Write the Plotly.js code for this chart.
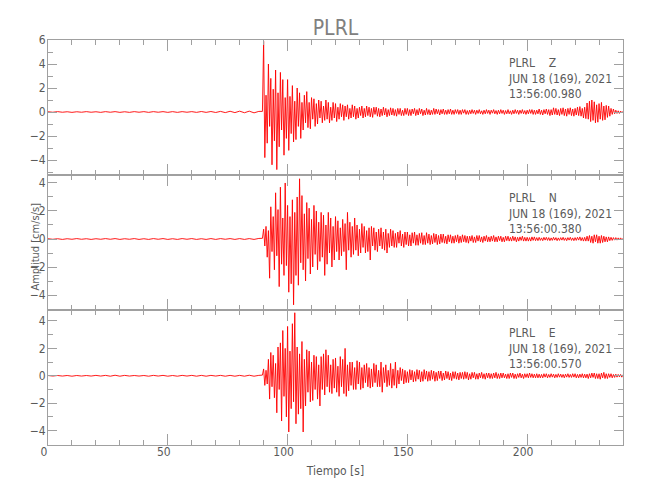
<!DOCTYPE html>
<html>
<head>
<meta charset="utf-8">
<script src="https://cdn.plot.ly/plotly-3.0.1.min.js"></script>
<style>html,body{margin:0;padding:0;background:#fff;}#chart{width:650px;height:500px;}</style>
</head>
<body>
<div id="chart"></div>
<script>
// ---- data ----
const station = "PLRL";
const components = ["Z", "N", "E"];
const dateLabel = "JUN 18 (169), 2021";
const startTimes = ["13:56:00.980", "13:56:00.380", "13:56:00.570"];

// pre-event noise: samples every 2 s from t = 0 to 88 s
const noiseStart = 0, noiseStep = 2;
// event signal: samples every 0.5 s from t = 89.5 to 240 s
const signalStart = 89.5, signalStep = 0.5;

const zNoise = [0.02,-0.02,0.03,-0.02,0.02,-0.03,0.02,-0.02,0.03,-0.02,
 0.02,-0.03,0.03,-0.02,0.03,-0.03,0.02,-0.03,0.03,-0.02,
 0.03,-0.03,0.03,-0.02,0.03,-0.03,0.03,-0.03,0.03,-0.02,
 0.03,-0.03,0.04,-0.03,0.04,-0.04,0.05,-0.05,0.06,-0.05,
 0.07,-0.06,0.07,-0.07,0.05];
const zSignal = [0.05,5.9,-3.8,1.4,-2.6,4.0,-1.2,2.8,-4.4,1.9,
 -2.4,3.5,-4.8,1.6,-2.9,3.3,-1.5,2.7,-3.6,1.2,
 -2.2,2.7,-3.2,1.3,-1.8,2.2,-2.5,0.9,-2.3,2.0,
 -1.2,1.6,-2.2,0.8,-1.5,1.4,-0.9,1.7,-1.3,0.8,
 -1.4,1.2,-0.6,1.1,-1.2,0.7,-1.0,1.0,-0.5,0.9,
 -0.9,0.5,-0.7,1.0,-0.6,0.8,-0.9,0.4,-0.7,0.8,
 -0.5,0.7,-0.8,0.4,-0.6,0.7,-0.4,0.6,-0.7,0.5,
 -0.4,0.6,-0.6,0.3,-0.5,0.6,-0.4,0.5,-0.6,0.3,
 -0.5,0.4,-0.3,0.5,-0.5,0.3,-0.4,0.5,-0.3,0.4,
 -0.4,0.3,-0.45,0.4,-0.2,0.4,-0.35,0.3,-0.4,0.25,
 -0.3,0.4,-0.25,0.3,-0.4,0.2,-0.3,0.35,-0.25,0.3,
 -0.3,0.2,-0.35,0.3,-0.2,0.3,-0.3,0.15,-0.3,0.3,
 -0.2,0.3,-0.3,0.2,-0.3,0.25,-0.15,0.3,-0.3,0.2,
 -0.25,0.3,-0.15,0.25,-0.3,0.15,-0.25,0.3,-0.2,0.2,
 -0.25,0.15,-0.2,0.3,-0.2,0.25,-0.15,0.2,-0.25,0.2,
 -0.15,0.25,-0.2,0.15,-0.2,0.2,-0.15,0.25,-0.2,0.15,
 -0.2,0.2,-0.12,0.2,-0.2,0.15,-0.2,0.2,-0.1,0.2,
 -0.2,0.12,-0.2,0.15,-0.15,0.2,-0.12,0.15,-0.2,0.15,
 -0.12,0.2,-0.15,0.1,-0.2,0.15,-0.15,0.2,-0.12,0.15,
 -0.2,0.15,-0.1,0.2,-0.15,0.12,-0.2,0.15,-0.15,0.2,
 -0.12,0.15,-0.2,0.12,-0.15,0.2,-0.15,0.1,-0.2,0.15,
 -0.15,0.2,-0.12,0.15,-0.2,0.15,-0.12,0.2,-0.15,0.12,
 -0.2,0.15,-0.15,0.2,-0.12,0.2,-0.2,0.15,-0.2,0.15,
 -0.15,0.25,-0.2,0.15,-0.25,0.2,-0.15,0.25,-0.2,0.2,
 -0.3,0.2,-0.25,0.35,-0.2,0.3,-0.25,0.2,-0.3,0.3,
 -0.2,0.35,-0.3,0.25,-0.35,0.3,-0.2,0.35,-0.3,0.25,
 -0.35,0.3,-0.25,0.4,-0.3,0.45,-0.35,0.3,-0.5,0.4,
 -0.55,0.75,-0.6,0.9,-0.8,1.0,-0.7,0.85,-0.9,0.6,
 -0.85,0.7,-0.6,0.8,-0.7,0.5,-0.65,0.55,-0.45,0.5,
 -0.35,0.3,-0.2,0.25,-0.15,0.15,-0.12,0.1,-0.12,0.08,
 -0.08,0.06];

const nNoise = [0.02,-0.02,0.02,-0.03,0.02,-0.02,0.03,-0.02,0.02,-0.03,
 0.02,-0.02,0.03,-0.02,0.03,-0.03,0.02,-0.02,0.03,-0.03,
 0.02,-0.03,0.03,-0.02,0.03,-0.03,0.02,-0.03,0.03,-0.02,
 0.03,-0.03,0.02,-0.03,0.03,-0.03,0.03,-0.02,0.03,-0.03,
 0.03,-0.03,0.03,-0.03,0.04];
const nSignal = [0.05,0.7,-0.5,0.9,-1.3,0.6,-2.8,2.3,-0.9,1.6,
 -2.2,3.3,-1.2,2.1,-3.4,3.7,-1.8,1.5,-2.6,4.0,
 -1.9,2.4,-3.8,1.6,-3.2,2.8,-4.7,1.9,-2.6,3.0,
 -3.3,4.3,-1.7,3.1,-2.2,1.8,-3.0,2.6,-1.4,2.2,
 -2.5,1.4,-2.0,2.4,-1.1,2.0,-2.2,1.2,-1.6,1.9,
 -1.3,1.7,-2.6,1.0,-1.8,1.9,-1.0,1.5,-2.0,0.9,
 -1.5,1.6,-0.9,1.3,-1.5,0.8,-1.2,1.4,-0.9,1.1,
 -2.2,1.9,-0.8,1.2,-1.3,0.9,-1.1,1.5,-0.8,1.0,
 -1.2,0.7,-1.0,1.1,-0.6,0.9,-1.0,0.6,-0.9,0.8,
 -1.5,0.9,-0.5,0.8,-0.8,0.5,-0.9,0.7,-0.5,0.8,
 -0.7,0.5,-0.8,0.7,-1.0,0.4,-0.6,0.7,-0.5,0.6,
 -0.6,0.4,-0.6,0.5,-0.3,0.6,-0.5,0.35,-0.6,0.5,
 -0.4,0.5,-0.5,0.3,-0.5,0.45,-0.3,0.5,-0.45,0.3,
 -0.45,0.4,-0.3,0.45,-0.4,0.25,-0.4,0.45,-0.3,0.35,
 -0.4,0.25,-0.35,0.4,-0.25,0.35,-0.4,0.25,-0.35,0.35,
 -0.25,0.35,-0.3,0.2,-0.35,0.3,-0.2,0.3,-0.3,0.2,
 -0.3,0.25,-0.2,0.3,-0.3,0.2,-0.25,0.3,-0.2,0.25,
 -0.25,0.2,-0.3,0.2,-0.15,0.25,-0.25,0.15,-0.25,0.25,
 -0.15,0.25,-0.2,0.15,-0.25,0.2,-0.15,0.25,-0.2,0.15,
 -0.2,0.2,-0.15,0.25,-0.2,0.15,-0.2,0.2,-0.12,0.2,
 -0.2,0.12,-0.2,0.2,-0.12,0.2,-0.15,0.12,-0.15,0.2,
 -0.12,0.15,-0.2,0.12,-0.15,0.15,-0.1,0.2,-0.15,0.12,
 -0.15,0.12,-0.15,0.1,-0.15,0.15,-0.1,0.15,-0.12,0.1,
 -0.12,0.12,-0.1,0.08,-0.12,0.12,-0.08,0.12,-0.1,0.1,
 -0.12,0.08,-0.1,0.12,-0.08,0.1,-0.12,0.08,-0.1,0.1,
 -0.08,0.12,-0.1,0.08,-0.12,0.1,-0.08,0.12,-0.1,0.08,
 -0.12,0.1,-0.1,0.12,-0.08,0.15,-0.12,0.1,-0.15,0.12,
 -0.15,0.2,-0.15,0.25,-0.25,0.2,-0.3,0.3,-0.2,0.3,
 -0.3,0.2,-0.3,0.25,-0.25,0.2,-0.2,0.15,-0.2,0.15,
 -0.12,0.12,-0.1,0.1,-0.08,0.1,-0.08,0.08,-0.06,0.08,
 -0.06,0.05];

const eNoise = [0.02,-0.02,0.02,-0.02,0.02,-0.03,0.02,-0.02,0.02,-0.02,
 0.03,-0.02,0.03,-0.03,0.04,-0.03,0.03,-0.02,0.02,-0.02,
 0.02,-0.03,0.03,-0.02,0.03,-0.03,0.02,-0.03,0.03,-0.02,
 0.03,-0.03,0.03,-0.03,0.03,-0.02,0.03,-0.03,0.03,-0.03,
 0.03,-0.03,0.04,-0.03,0.03];
const eSignal = [0.05,0.5,-0.7,0.4,-0.6,1.2,-1.7,1.7,-0.8,1.5,
 -1.6,0.9,-2.7,2.1,-1.0,2.4,-3.3,3.3,-1.5,2.0,
 -3.0,3.6,-4.1,1.8,-2.4,3.8,-1.9,4.6,-3.5,2.1,
 -2.8,1.6,-2.4,2.5,-4.1,1.2,-2.2,1.9,-1.2,1.8,
 -1.9,1.0,-1.8,1.5,-1.0,1.4,-1.7,0.8,-2.2,1.4,
 -1.0,1.6,-1.4,1.9,-0.8,1.5,-1.2,0.8,-1.3,1.2,
 -0.9,1.3,-1.2,0.7,-1.5,1.4,-0.8,1.2,-1.3,2.0,
 -1.5,0.8,-1.1,1.0,-0.7,1.0,-1.0,0.6,-1.0,1.1,
 -0.6,1.0,-1.0,0.6,-0.9,0.8,-0.5,0.9,-0.8,0.6,
 -0.9,0.5,-0.8,0.9,-0.5,0.8,-0.8,0.4,-0.8,1.0,
 -1.2,0.6,-0.5,0.8,-0.8,0.4,-0.7,0.9,-0.9,0.5,
 -0.7,1.0,-0.9,0.4,-0.6,0.6,-0.35,0.5,-0.6,0.4,
 -0.5,0.3,-0.5,0.45,-0.3,0.4,-0.45,0.3,-0.4,0.45,
 -0.25,0.4,-0.45,0.3,-0.4,0.45,-0.25,0.35,-0.4,0.3,
 -0.35,0.4,-0.25,0.35,-0.4,0.25,-0.35,0.35,-0.2,0.35,
 -0.35,0.2,-0.3,0.35,-0.2,0.3,-0.3,0.2,-0.35,0.3,
 -0.2,0.3,-0.25,0.2,-0.3,0.25,-0.2,0.25,-0.25,0.3,
 -0.2,0.25,-0.3,0.15,-0.25,0.25,-0.15,0.25,-0.25,0.15,
 -0.25,0.2,-0.15,0.25,-0.2,0.15,-0.25,0.2,-0.15,0.2,
 -0.2,0.15,-0.2,0.2,-0.15,0.25,-0.2,0.15,-0.2,0.2,
 -0.15,0.2,-0.15,0.12,-0.2,0.15,-0.2,0.2,-0.12,0.2,
 -0.2,0.12,-0.2,0.15,-0.12,0.2,-0.15,0.12,-0.2,0.15,
 -0.12,0.15,-0.15,0.2,-0.12,0.15,-0.15,0.12,-0.15,0.15,
 -0.15,0.12,-0.15,0.1,-0.15,0.15,-0.1,0.15,-0.15,0.1,
 -0.12,0.15,-0.1,0.12,-0.15,0.1,-0.12,0.15,-0.1,0.12,
 -0.12,0.1,-0.15,0.12,-0.1,0.15,-0.12,0.1,-0.12,0.15,
 -0.1,0.15,-0.15,0.1,-0.15,0.12,-0.12,0.15,-0.15,0.12,
 -0.15,0.12,-0.2,0.15,-0.15,0.2,-0.12,0.2,-0.2,0.15,
 -0.2,0.15,-0.25,0.2,-0.15,0.25,-0.2,0.15,-0.2,0.15,
 -0.12,0.15,-0.15,0.1,-0.12,0.12,-0.1,0.1,-0.08,0.1,
 -0.1,0.08];

const xTickVals = [0, 50, 100, 150, 200];
const yRanges = [[-5.25, 6.0001], [-5.07, 4.57], [-5.05, 4.8]];

// ---- build ----
function sampleTimes(start, step, n) {
  const out = [];
  for (let i = 0; i < n; i++) out.push(start + i * step);
  return out;
}
function series(noise, signal) {
  return {
    x: sampleTimes(noiseStart, noiseStep, noise.length).concat(sampleTimes(signalStart, signalStep, signal.length)),
    y: noise.concat(signal)
  };
}
const all = [series(zNoise, zSignal), series(nNoise, nSignal), series(eNoise, eSignal)];

const FONT = "'DejaVu Sans Condensed', 'Liberation Sans Narrow', 'Liberation Sans', sans-serif";
const TXT = "#5a5a5a";
const AX = "#a0a0a0";

const traces = all.map((s, i) => ({
  x: s.x, y: s.y, type: "scatter", mode: "lines",
  line: {color: "#ff0000", width: 0.9},
  xaxis: "x" + (i === 0 ? "" : i + 1),
  yaxis: "y" + (i === 0 ? "" : i + 1),
  hoverinfo: "skip", showlegend: false
}));

const doms = [[2/3, 1], [1/3, 2/3], [0, 1/3]];
const layout = {
  width: 650, height: 500,
  margin: {l: 48, r: 27, t: 40, b: 55},
  paper_bgcolor: "#fff", plot_bgcolor: "#fff",
  font: {family: FONT, color: TXT, size: 12},
  title: {text: station, x: 0.5, xref: "paper", y: 1 - 28/500, yref: "container", yanchor: "middle",
          font: {family: FONT, size: 21, color: "#808080"}},
  annotations: [],
  showlegend: false
};
for (let i = 0; i < 3; i++) {
  const sx = i === 0 ? "" : String(i + 1);
  layout["xaxis" + sx] = {
    domain: [0, 1], range: [0, 240], anchor: "y" + sx,
    tickvals: xTickVals, ticks: "inside", ticklen: 11, tickcolor: AX, tickwidth: 1,
    minor: {dtick: 10, ticks: "inside", ticklen: 5, tickcolor: AX},
    showline: true, linecolor: AX, linewidth: 1, mirror: "ticks",
    showgrid: false, zeroline: false,
    showticklabels: i === 2,
    ticklabelshift: -4, ticklabelstandoff: -4,
    tickfont: {family: FONT, size: 12, color: TXT},
    title: i === 2 ? {text: "Tiempo [s]", standoff: 8, font: {family: FONT, size: 12, color: TXT}} : {text: ""}
  };
  if (i !== 2) layout["xaxis" + sx].matches = "x3";
  layout["yaxis" + sx] = {
    domain: doms[i], range: yRanges[i], anchor: "x" + sx,
    dtick: 2, tick0: 0, ticks: "inside", ticklen: 9, tickcolor: AX, tickwidth: 1,
    minor: {dtick: 1, ticks: "inside", ticklen: 5, tickcolor: AX},
    showline: true, linecolor: AX, linewidth: 1, mirror: "ticks",
    showgrid: false, zeroline: false,
    ticklabelstandoff: -1,
    tickfont: {family: FONT, size: 12, color: TXT}
  };
  const lines = [station + "\u00a0\u00a0\u00a0\u00a0" + components[i], dateLabel, startTimes[i]];
  layout.annotations.push({
    xref: "paper", yref: "paper", x: (506 - 48) / 575, xanchor: "left",
    y: doms[i][1] - 14 / 405, yanchor: "top",
    text: lines.join("<br>"), align: "left", showarrow: false,
    font: {family: FONT, size: 12, color: TXT}
  });
}
layout.annotations.push({
  xref: "paper", yref: "paper", x: (36 - 48) / 575, y: 0.49, xanchor: "center", yanchor: "middle",
  text: "Amplitud [cm/s/s]", textangle: -90, showarrow: false,
  font: {family: FONT, size: 11, color: TXT}
});

Plotly.newPlot("chart", traces, layout, {staticPlot: true, displayModeBar: false});
</script>
</body>
</html>
